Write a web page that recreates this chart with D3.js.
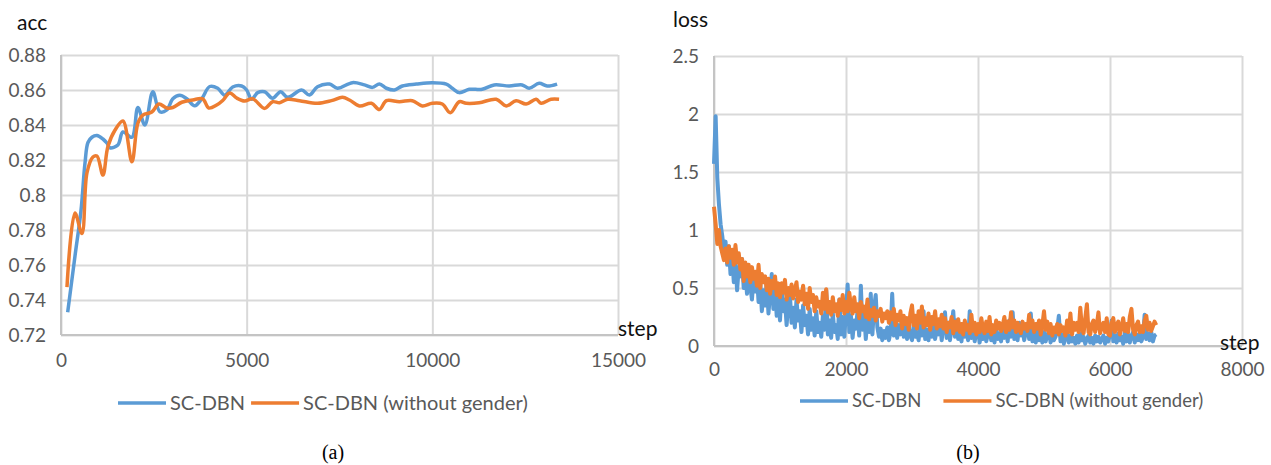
<!DOCTYPE html>
<html>
<head>
    <meta charset="UTF-8">
    <title>acc / loss</title>
    <style>
        body { margin: 0; background: #fff; }
        svg { display: block; }
    </style>
</head>
<body>
    <div id="chart"></div>
    <script src="https://cdn.jsdelivr.net/npm/d3@7"></script>
    <script>

    // ---- data ----
    const seriesNames = ["SC-DBN", "SC-DBN (without gender)"];

    const accXTicks = [0, 5000, 10000, 15000];
    const accYTicks = [0.72, 0.74, 0.76, 0.78, 0.8, 0.82, 0.84, 0.86, 0.88];

    // [step, acc]
    const accBlue = [
        [180, 0.733], [376, 0.765], [538, 0.791], [645, 0.818], [726, 0.830], [833, 0.833],
        [968, 0.834], [1129, 0.832], [1236, 0.8297], [1317, 0.827], [1532, 0.8286], [1667, 0.836],
        [1909, 0.833], [2070, 0.850], [2258, 0.840], [2473, 0.859], [2661, 0.8476], [2849, 0.8486],
        [3011, 0.855], [3199, 0.857], [3387, 0.855], [3602, 0.851], [3790, 0.855], [4005, 0.862],
        [4220, 0.861], [4408, 0.857], [4623, 0.8617], [4865, 0.8623], [5000, 0.860], [5134, 0.8547],
        [5295, 0.8585], [5484, 0.859], [5699, 0.8553], [5914, 0.859], [6102, 0.8558], [6478, 0.860],
        [6693, 0.8571], [6908, 0.8619], [7231, 0.8634], [7446, 0.861], [7849, 0.8642], [8172, 0.8629],
        [8387, 0.8615], [8575, 0.8634], [8763, 0.861], [8978, 0.860], [9193, 0.8623], [9569, 0.8634],
        [9999, 0.8642], [10376, 0.8634], [10537, 0.861], [10725, 0.8585], [10994, 0.8604], [11343, 0.8604],
        [11666, 0.8629], [12069, 0.8623], [12419, 0.8629], [12607, 0.861], [12876, 0.8638], [13091, 0.8623],
        [13360, 0.8634]
    ];
    const accOrange = [
        [161, 0.7474], [376, 0.7897], [564, 0.778], [699, 0.8126], [860, 0.8217], [968, 0.8223],
        [1129, 0.8114], [1263, 0.8277], [1452, 0.837], [1667, 0.8423], [1909, 0.819], [2070, 0.841],
        [2204, 0.8457], [2446, 0.8474], [2634, 0.852], [2849, 0.8497], [3011, 0.850], [3252, 0.853],
        [3548, 0.8543], [3817, 0.8549], [3978, 0.8497], [4193, 0.8514], [4355, 0.854], [4543, 0.8583],
        [4731, 0.8554], [4946, 0.8537], [5161, 0.8550], [5484, 0.8495], [5699, 0.8533], [5887, 0.8527],
        [6102, 0.8547], [6424, 0.8539], [6908, 0.8524], [7284, 0.8539], [7580, 0.8558], [7768, 0.8543],
        [8037, 0.8509], [8360, 0.8524], [8575, 0.8488], [8763, 0.8539], [9112, 0.8533], [9462, 0.8539],
        [9731, 0.8509], [9999, 0.8524], [10268, 0.852], [10483, 0.847], [10725, 0.8533], [10913, 0.8524],
        [11262, 0.8527], [11720, 0.8547], [11989, 0.8509], [12257, 0.8539], [12526, 0.852], [12795, 0.8547],
        [12930, 0.8524], [13198, 0.8547], [13413, 0.8547]
    ];

    const lossXTicks = [0, 2000, 4000, 6000, 8000];
    const lossYTicks = [0, 0.5, 1, 1.5, 2, 2.5];

    // loss logged every 25 steps from step 0 (one row = 250 steps)
    const lossStepSize = 25;
    const lossBlue = [
        1.57, 1.98, 1.45, 1.22, 1.05, 0.95, 0.82, 0.90, 0.70, 0.86,
        0.62, 0.78, 0.55, 0.72, 0.48, 0.68, 0.60, 0.75, 0.50, 0.64,
        0.45, 0.66, 0.52, 0.40, 0.60, 0.47, 0.62, 0.38, 0.55, 0.30,
        0.48, 0.35, 0.56, 0.28, 0.45, 0.62, 0.32, 0.50, 0.26, 0.42,
        0.22, 0.48, 0.30, 0.40, 0.18, 0.36, 0.44, 0.20, 0.33, 0.16,
        0.40, 0.22, 0.30, 0.12, 0.35, 0.18, 0.26, 0.10, 0.32, 0.14,
        0.24, 0.09, 0.30, 0.12, 0.20, 0.08, 0.26, 0.14, 0.48, 0.10,
        0.22, 0.07, 0.28, 0.12, 0.18, 0.06, 0.40, 0.10, 0.25, 0.08,
        0.30, 0.53, 0.12, 0.26, 0.07, 0.22, 0.15, 0.30, 0.09, 0.52,
        0.14, 0.28, 0.06, 0.24, 0.12, 0.45, 0.10, 0.33, 0.44, 0.16,
        0.08, 0.15, 0.05, 0.13, 0.07, 0.16, 0.05, 0.12, 0.45, 0.09,
        0.24, 0.07, 0.18, 0.10, 0.25, 0.08, 0.20, 0.06, 0.16, 0.09,
        0.05, 0.18, 0.08, 0.12, 0.05, 0.19, 0.09, 0.30, 0.06, 0.14,
        0.05, 0.20, 0.08, 0.25, 0.06, 0.15, 0.10, 0.22, 0.05, 0.17,
        0.29, 0.07, 0.20, 0.05, 0.16, 0.30, 0.08, 0.22, 0.06, 0.12,
        0.04, 0.19, 0.08, 0.14, 0.05, 0.30, 0.07, 0.18, 0.04, 0.12,
        0.15, 0.03, 0.12, 0.06, 0.16, 0.04, 0.10, 0.20, 0.05, 0.13,
        0.03, 0.16, 0.06, 0.11, 0.04, 0.18, 0.07, 0.14, 0.04, 0.22,
        0.08, 0.29, 0.06, 0.17, 0.05, 0.20, 0.09, 0.15, 0.05, 0.12,
        0.18, 0.06, 0.28, 0.04, 0.12, 0.03, 0.14, 0.05, 0.10, 0.03,
        0.12, 0.04, 0.09, 0.13, 0.03, 0.11, 0.05, 0.08, 0.14, 0.26,
        0.04, 0.10, 0.02, 0.08, 0.11, 0.03, 0.09, 0.04, 0.07, 0.02,
        0.09, 0.03, 0.11, 0.05, 0.08, 0.02, 0.06, 0.09, 0.03, 0.07,
        0.02, 0.09, 0.04, 0.08, 0.03, 0.06, 0.09, 0.02, 0.07, 0.04,
        0.10, 0.22, 0.04, 0.09, 0.03, 0.11, 0.05, 0.08, 0.02, 0.12,
        0.04, 0.10, 0.03, 0.09, 0.12, 0.03, 0.10, 0.05, 0.11, 0.04,
        0.08, 0.27, 0.06, 0.11, 0.05, 0.12, 0.04, 0.09, 0.10
    ];
    const lossOrange = [
        1.20, 1.05, 0.88, 1.00, 0.86, 0.80, 0.74, 0.84, 0.72, 0.86,
        0.76, 0.83, 0.70, 0.87, 0.72, 0.80, 0.66, 0.75, 0.56, 0.72,
        0.60, 0.70, 0.55, 0.68, 0.58, 0.64, 0.52, 0.70, 0.50, 0.62,
        0.55, 0.60, 0.48, 0.58, 0.45, 0.56, 0.50, 0.60, 0.44, 0.54,
        0.42, 0.54, 0.46, 0.57, 0.40, 0.50, 0.44, 0.53, 0.41, 0.48,
        0.55, 0.38, 0.47, 0.40, 0.52, 0.36, 0.45, 0.32, 0.50, 0.38,
        0.44, 0.30, 0.42, 0.34, 0.38, 0.28, 0.46, 0.32, 0.49, 0.29,
        0.38, 0.27, 0.42, 0.30, 0.36, 0.26, 0.40, 0.31, 0.44, 0.28,
        0.38, 0.30, 0.46, 0.34, 0.28, 0.42, 0.30, 0.36, 0.24, 0.38,
        0.30, 0.34, 0.25, 0.40, 0.23, 0.31, 0.26, 0.33, 0.22, 0.30,
        0.26, 0.32, 0.21, 0.28, 0.24, 0.30, 0.20, 0.29, 0.23, 0.32,
        0.18, 0.27, 0.22, 0.30, 0.15, 0.26, 0.19, 0.24, 0.14, 0.28,
        0.35, 0.18, 0.26, 0.15, 0.30, 0.20, 0.34, 0.16, 0.24, 0.18,
        0.28, 0.14, 0.25, 0.19, 0.30, 0.15, 0.23, 0.17, 0.27, 0.15,
        0.24, 0.12, 0.20, 0.16, 0.25, 0.11, 0.21, 0.14, 0.23, 0.12,
        0.19, 0.10, 0.22, 0.14, 0.18, 0.11, 0.27, 0.13, 0.20, 0.10,
        0.19, 0.12, 0.24, 0.15, 0.11, 0.21, 0.13, 0.25, 0.10, 0.18,
        0.12, 0.22, 0.15, 0.20, 0.13, 0.18, 0.25, 0.12, 0.21, 0.14,
        0.29, 0.16, 0.22, 0.12, 0.20, 0.14, 0.11, 0.21, 0.15, 0.19,
        0.13, 0.27, 0.16, 0.22, 0.12, 0.19, 0.15, 0.22, 0.10, 0.18,
        0.30, 0.14, 0.21, 0.11, 0.19, 0.09, 0.16, 0.12, 0.19, 0.10,
        0.18, 0.13, 0.16, 0.09, 0.22, 0.12, 0.28, 0.10, 0.20, 0.14,
        0.20, 0.12, 0.33, 0.15, 0.11, 0.24, 0.36, 0.12, 0.10, 0.19,
        0.22, 0.12, 0.18, 0.29, 0.11, 0.17, 0.20, 0.12, 0.24, 0.10,
        0.09, 0.20, 0.24, 0.12, 0.18, 0.21, 0.10, 0.16, 0.24, 0.13,
        0.19, 0.12, 0.25, 0.32, 0.14, 0.10, 0.18, 0.21, 0.12, 0.17,
        0.12, 0.22, 0.26, 0.14, 0.20, 0.13, 0.17, 0.21, 0.18
    ];

    // ---- look ----
    const blue = "#5b9bd5", orange = "#ed7d31";
    const gridColor = "#d9d9d9", axisColor = "#c4c4c4", labelColor = "#595959";
    const font = "Lato, 'Open Sans', sans-serif";

    const svg = d3.select("#chart")
        .append("svg")
        .attr("width", 1271)
        .attr("height", 465);

    function drawPanel(p) {
        const x = d3.scaleLinear().domain(p.xDomain).range([p.left, p.right]);
        const y = d3.scaleLinear().domain(p.yDomain).range([p.bottom, p.top]);
        const g = svg.append("g");

        // horizontal grid + y labels
        const yAxis = g.append("g")
            .attr("transform", `translate(${p.left},0)`)
            .call(d3.axisLeft(y)
                .tickValues(p.yTicks)
                .tickSize(-(p.right - p.left))
                .tickPadding(15)
                .tickFormat(d => String(+d.toFixed(2))));
        // vertical grid + x labels
        const xAxis = g.append("g")
            .attr("transform", `translate(0,${p.bottom})`)
            .call(d3.axisBottom(x)
                .tickValues(p.xTicks)
                .tickSize(-(p.bottom - p.top))
                .tickPadding(p.xPad)
                .tickFormat(d3.format("d")));

        [yAxis, xAxis].forEach(a => {
            a.select(".domain").remove();
            a.selectAll(".tick line")
                .attr("stroke", gridColor)
                .attr("stroke-width", 2);
            a.selectAll(".tick text")
                .attr("fill", labelColor)
                .style("font-family", font)
                .style("font-size", p.tickFont + "px");
        });

        // axis lines
        g.append("line")
            .attr("x1", p.left).attr("x2", p.left)
            .attr("y1", p.top).attr("y2", p.bottom)
            .attr("stroke", axisColor).attr("stroke-width", 2);
        g.append("line")
            .attr("x1", p.left).attr("x2", p.right)
            .attr("y1", p.bottom).attr("y2", p.bottom)
            .attr("stroke", axisColor).attr("stroke-width", 2);

        // series
        const line = d3.line()
            .x(d => x(d[0]))
            .y(d => y(d[1]))
            .curve(p.curve);
        p.series.forEach((s, i) => {
            g.append("path")
                .datum(s)
                .attr("fill", "none")
                .attr("stroke", [blue, orange][i])
                .attr("stroke-width", p.lineWidth)
                .attr("stroke-linejoin", "round")
                .attr("d", line);
        });

        // axis titles
        g.append("text")
            .attr("x", p.yTitle[0]).attr("y", p.yTitle[1])
            .text(p.yName)
            .style("font-family", font).style("font-size", "21px")
            .attr("fill", "#111");
        g.append("text")
            .attr("x", p.xTitle[0]).attr("y", p.xTitle[1])
            .text("step")
            .style("font-family", font).style("font-size", "21px")
            .attr("fill", "#111");

        // legend
        let lx = p.legend[0];
        const ly = p.legend[1];
        seriesNames.forEach((name, i) => {
            g.append("line")
                .attr("x1", lx).attr("x2", lx + 48)
                .attr("y1", ly).attr("y2", ly)
                .attr("stroke", [blue, orange][i])
                .attr("stroke-width", 3.5);
            const t = g.append("text")
                .attr("x", lx + 52).attr("y", ly)
                .attr("dy", "0.35em")
                .text(name)
                .attr("fill", labelColor)
                .style("font-family", font)
                .style("font-size", p.legendFont + "px");
            lx += 52 + t.node().getComputedTextLength() + p.legendGap;
        });

        // caption
        g.append("text")
            .attr("x", p.caption[0]).attr("y", p.caption[1])
            .attr("text-anchor", "middle")
            .attr("dy", "0.35em")
            .text(p.captionText)
            .style("font-family", "'Liberation Serif', 'Times New Roman', serif")
            .style("font-size", "20px")
            .attr("fill", "#000");
    }

    drawPanel({
        left: 61, right: 618, top: 55, bottom: 335,
        xDomain: [0, 15000], yDomain: [0.72, 0.88],
        xTicks: accXTicks, yTicks: accYTicks,
        xPad: 19, tickFont: 19,
        series: [accBlue, accOrange],
        curve: d3.curveCatmullRom.alpha(0.5),
        lineWidth: 3.5,
        yName: "acc", yTitle: [17, 30],
        xTitle: [618, 336],
        legend: [118, 403], legendFont: 20, legendGap: 6,
        caption: [333, 452], captionText: "(a)"
    });

    drawPanel({
        left: 714, right: 1242, top: 56, bottom: 346,
        xDomain: [0, 8000], yDomain: [0, 2.5],
        xTicks: lossXTicks, yTicks: lossYTicks,
        xPad: 17, tickFont: 19,
        series: [
            lossBlue.map((v, i) => [i * lossStepSize, v]),
            lossOrange.map((v, i) => [i * lossStepSize, v])
        ],
        curve: d3.curveLinear,
        lineWidth: 4,
        yName: "loss", yTitle: [673, 27],
        xTitle: [1220, 350],
        legend: [800, 401], legendFont: 18.5, legendGap: 22,
        caption: [968, 452], captionText: "(b)"
    });

    </script>
</body>
</html>
